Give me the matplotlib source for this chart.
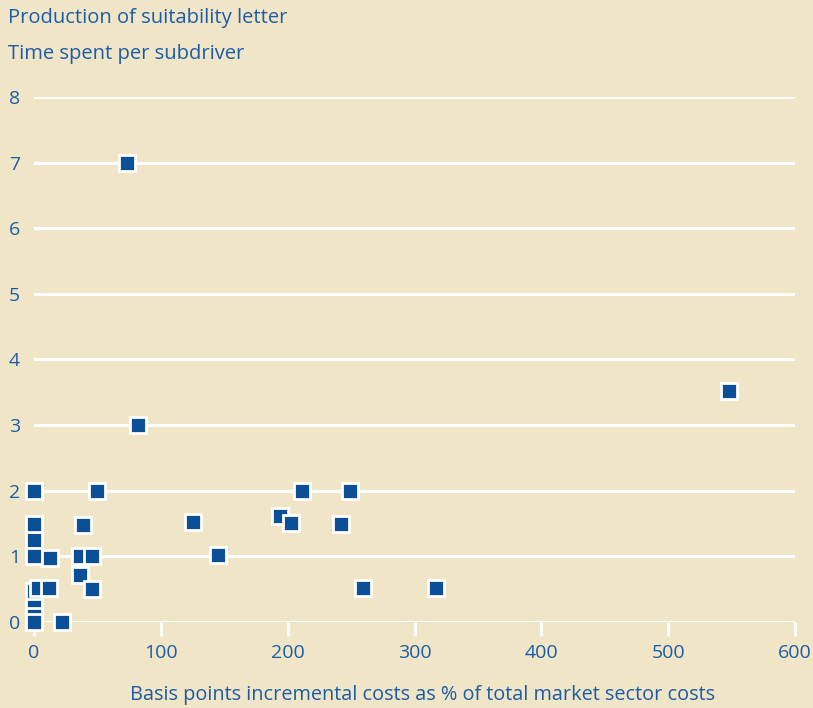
import matplotlib.pyplot as plt

# Data (basis points, time spent per subdriver)
cost_bp = [0, 0, 0, 0, 0, 0, 0, 0, 3, 12, 13, 36, 36, 39, 46, 46, 50, 22,
           73, 82, 125, 145, 194, 203, 211, 242, 249, 259, 317, 548]
time_spent = [0.23, 0.33, 0.47, 0, 1.25, 1.5, 1.0, 2.0, 0.52, 0.52, 0.98, 1.0, 0.72, 1.48, 1.0, 0.5, 2.0, 0.0,
              7.0, 3.0, 1.52, 1.02, 1.62, 1.51, 2.0, 1.5, 2.0, 0.52, 0.52, 3.52]

x_ticks = [0, 100, 200, 300, 400, 500, 600]
y_ticks = [0, 1, 2, 3, 4, 5, 6, 7, 8]

bg = '#F1E5C8'
blue = '#0B4F96'
txt = '#1A5DA6'

plt.rcParams['font.family'] = ['Open Sans', 'DejaVu Sans']

fig = plt.figure(figsize=(8.13, 7.08), dpi=100)
fig.patch.set_facecolor(bg)
ax = fig.add_axes([0.0418, 0.1215, 0.9362, 0.7415])
ax.set_facecolor(bg)

# white horizontal grid lines
for y in y_ticks:
    ax.axhline(y, color='white', lw=2.2, zorder=1)

ax.plot(cost_bp, time_spent, 's', color=blue, markersize=11,
        markeredgecolor='white', markeredgewidth=2, clip_on=False, zorder=3)

ax.set_xlim(0, 600)
ax.set_ylim(0, 8)
for s in ax.spines.values():
    s.set_visible(False)

ax.set_xticks(x_ticks)
ax.set_yticks(y_ticks)
ax.tick_params(axis='x', colors='white', length=10, width=2, pad=6, labelcolor=txt, labelsize=14)
ax.tick_params(axis='y', length=0, pad=14, labelcolor=txt, labelsize=14)
for lab in ax.get_yticklabels():
    lab.set_horizontalalignment('center')

ax.set_xlabel('Basis points incremental costs as % of total market sector costs',
              color=txt, fontsize=14.3, va='center')
ax.xaxis.set_label_coords(0.51, -0.139)

fig.text(0.01, 0.975, 'Production of suitability letter', color=txt, fontsize=14.5, va='center')
fig.text(0.01, 0.924, 'Time spent per subdriver', color=txt, fontsize=14.5, va='center')

fig.savefig('out.png', dpi=100, facecolor=bg)
